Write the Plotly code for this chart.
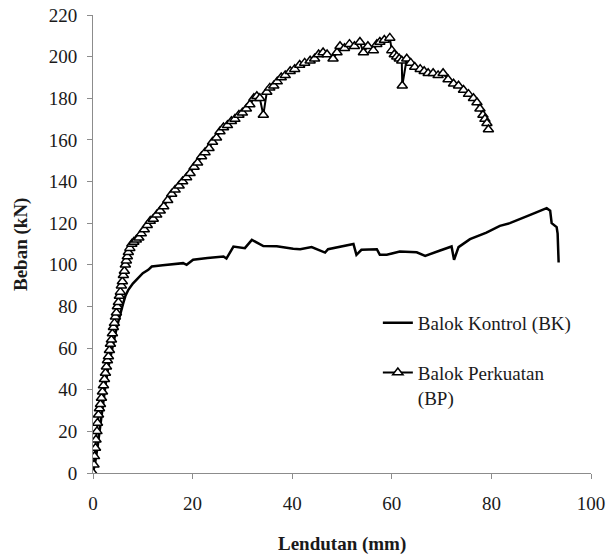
import plotly.graph_objects as go

bk_x = [0, 0.5, 1.0, 1.5, 2.0, 2.5, 3.0, 3.5, 4.0, 4.5, 5.0, 5.5, 6.0, 6.5, 7.1, 8.0, 9.1, 10.0,
        11.1, 11.8, 14.0, 16.0, 18.1, 18.8, 20.1, 23.0, 26.2, 26.8, 28.2, 30.5, 31.9, 34.2, 36.9,
        40.2, 41.6, 43.9, 46.6, 47.2, 50.9, 52.3, 52.9, 53.9, 57.0, 57.6, 59.0, 61.6, 65.0, 66.7,
        69.7, 72.0, 72.5, 73.4, 75.7, 79.0, 81.7, 83.7, 87.8, 91.1, 91.8, 92.1, 93.1, 93.3, 93.5]
bk_y = [0, 6, 14, 24, 33, 42, 50, 56, 62, 67, 72, 77, 81, 85, 88, 91, 94, 96,
        97.6, 99.2, 99.8, 100.3, 100.8, 100, 102.4, 103.3, 104, 103, 108.8, 108, 112, 109, 108.9,
        107.7, 107.5, 108.5, 105.9, 107.5, 109.1, 110, 104.8, 107.2, 107.5, 104.8, 104.8, 106.4, 106, 104.3,
        106.9, 108.8, 102.4, 108.5, 112.3, 115.5, 118.7, 120, 124, 127.2, 126, 120, 118.1, 115, 101.1]

bp_x = [0.0, 0.2, 0.3, 0.5, 0.6, 0.8, 0.9, 1.1, 1.3, 1.5, 1.7, 1.9, 2.1, 2.3, 2.5, 2.7, 2.9, 3.1,
        3.3, 3.5, 3.7, 3.9, 4.1, 4.3, 4.5, 4.7, 4.9, 5.1, 5.3, 5.5, 5.7, 5.9, 6.1, 6.3, 6.5, 6.7,
        6.9, 7.1, 7.4, 7.8, 8.2, 8.7, 9.2, 9.7, 10.3, 10.9, 11.5, 12.1, 12.8, 13.5, 14.2, 15.0,
        15.8, 16.5, 17.3, 18.0, 18.8, 19.5, 20.3, 21.0, 21.8, 22.5, 23.3, 24.0, 24.8, 25.5, 26.2,
        27.0, 27.8, 28.5, 29.3, 30.0, 30.8, 31.5, 32.3, 32.9, 33.5, 34.2, 34.9, 35.5, 36.3, 37.0,
        37.8, 38.6, 39.6, 40.5, 41.5, 42.5, 43.6, 44.5, 45.3, 46.2, 47.0, 48.2, 49.0, 49.6, 50.5,
        51.5, 52.5, 53.6, 54.3, 55.2, 56.3, 57.0, 57.6, 58.5, 59.6, 60.0, 60.5, 61.0, 61.5, 62.0,
        62.1, 63.0, 63.8, 64.6, 65.7, 66.5, 67.3, 68.3, 69.3, 70.3, 71.3, 72.4, 73.4, 74.4, 75.4,
        76.4, 77.1, 77.7, 78.3, 78.7, 79.1, 79.4]
bp_y = [0, 4, 8, 12, 16, 20, 24, 28, 31, 33, 36, 39, 42, 45, 48, 51, 54, 56,
        59, 62, 64, 67, 70, 72, 75, 77, 80, 82, 85, 87, 90, 92, 95, 97, 100, 102,
        104, 106, 108, 110, 111, 112, 113, 115, 117, 119, 121, 122, 124, 126, 128, 131,
        134, 136, 138, 140, 142, 144, 147, 149, 152, 154, 156, 159, 161, 164, 166,
        167, 169, 170, 172, 173, 175, 177, 180, 181, 180, 172, 183, 185, 186, 188,
        190, 191, 193, 194, 196, 197, 198, 199, 201, 202, 201, 199, 202, 205, 204,
        206, 205, 207, 202, 205, 203, 206, 207, 208, 209, 203, 201, 200, 199, 198,
        186, 199, 197, 195, 194, 193, 192, 192, 191, 192, 189, 187, 186, 184, 182,
        180, 178, 175, 172, 170, 168, 165]

x_ticks = [0, 20, 40, 60, 80, 100]
y_ticks = [0, 20, 40, 60, 80, 100, 120, 140, 160, 180, 200, 220]

FONT = "Liberation Serif, Times New Roman, serif"
TXT = "#1a1a1a"
FS = 19

fig = go.Figure()
fig.add_trace(go.Scatter(
    x=bk_x, y=bk_y, mode="lines", name="Balok Kontrol (BK)",
    line=dict(color="black", width=2.5), legendgroup="a"))
fig.add_trace(go.Scatter(
    x=bp_x, y=bp_y, mode="lines+markers", name="Balok Perkuatan<br>(BP)",
    line=dict(color="black", width=2),
    marker=dict(symbol="triangle-up", size=9, color="white",
                line=dict(color="black", width=1.5)),
    legendgroup="b"))

axis_common = dict(showgrid=False, zeroline=False, showline=True, linecolor="#8c8c8c",
                   linewidth=1, ticks="outside", ticklen=5, tickcolor="#8c8c8c",
                   automargin=False, ticklabeloverflow="allow",
                   tickfont=dict(family=FONT, size=FS, color=TXT))
fig.update_xaxes(range=[0, 100], tickvals=x_ticks, ticklabelstandoff=8, **axis_common)
fig.update_yaxes(range=[0, 220], tickvals=y_ticks, ticklabelstandoff=6, **axis_common)

fig.update_layout(
    width=606, height=556,
    margin=dict(l=93, r=15, t=15, b=83),
    paper_bgcolor="white", plot_bgcolor="white",
    font=dict(family=FONT, size=FS, color=TXT),
    showlegend=True,
    legend=dict(x=0.572, y=0.369, xanchor="left", yanchor="top", bgcolor="rgba(0,0,0,0)",
                borderwidth=0, tracegroupgap=22, valign="top", traceorder="grouped",
                font=dict(family=FONT, size=FS, color=TXT)),
    annotations=[
        dict(text="<b>Lendutan (mm)</b>", xref="paper", yref="paper", x=0.5, y=-0.155,
             xanchor="center", yanchor="middle", showarrow=False,
             font=dict(family=FONT, size=FS, color=TXT)),
        dict(text="<b>Beban (kN)</b>", xref="paper", yref="paper", x=-0.1446, y=0.5,
             xanchor="center", yanchor="middle", showarrow=False, textangle=-90,
             font=dict(family=FONT, size=FS, color=TXT)),
    ],
)

fig.write_html("out.html",
               config={"displayModeBar": False},
               post_script="document.body.style.margin='0';document.body.style.overflow='hidden';")
